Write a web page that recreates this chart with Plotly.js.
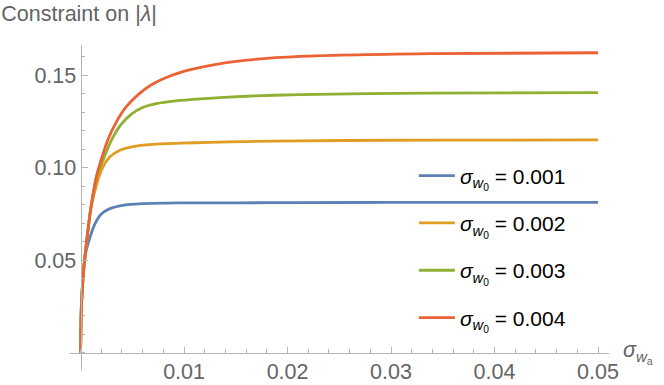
<!DOCTYPE html>
<html>
<head>
<meta charset="utf-8">
<script src="https://cdn.plot.ly/plotly-3.0.1.min.js"></script>
<style>
  html, body { margin: 0; padding: 0; background: #fff; }
  #chart { width: 664px; height: 385px; }
</style>
</head>
<body>
<div id="chart"></div>
<script>
// curve samples (x = sigma_wa, y = constraint on |lambda|)
const xBlue = [0, 0.00008, 0.00027, 0.00048, 0.00075, 0.00101, 0.00134, 0.00198, 0.00279, 0.00407, 0.006, 0.0096, 0.0155, 0.0212, 0.03, 0.04, 0.05];
const yBlue = [0, 0.0248, 0.0428, 0.0535, 0.0595, 0.0640, 0.0690, 0.0748, 0.0777, 0.0796, 0.0805, 0.0809, 0.081, 0.0811, 0.0812, 0.0812, 0.0812];

const xOrange = [0, 0.00008, 0.00027, 0.0006, 0.00101, 0.00166, 0.00214, 0.00279, 0.00375, 0.00504, 0.00697, 0.0096, 0.0125, 0.016, 0.0212, 0.03, 0.04, 0.05];
const yOrange = [0, 0.0248, 0.0428, 0.0605, 0.0782, 0.0930, 0.1002, 0.1056, 0.1093, 0.1114, 0.1126, 0.1132, 0.1137, 0.1141, 0.1145, 0.1148, 0.1149, 0.115];

const xGreen = [0, 0.00008, 0.00027, 0.0006, 0.00101, 0.0016, 0.0023, 0.00295, 0.0039, 0.00488, 0.006, 0.0073, 0.0092, 0.0116, 0.016, 0.0212, 0.0338, 0.05];
const yGreen = [0, 0.0248, 0.0428, 0.0608, 0.0788, 0.0962, 0.1058, 0.1145, 0.1232, 0.1288, 0.1325, 0.1346, 0.1361, 0.1372, 0.1386, 0.1395, 0.1403, 0.1405];

const xRed = [0, 0.00008, 0.00027, 0.0006, 0.00101, 0.0016, 0.00262, 0.00337, 0.0044, 0.00568, 0.00697, 0.00858, 0.01052, 0.01283, 0.01606, 0.0212, 0.0338, 0.05];
const yRed = [0, 0.0248, 0.0428, 0.0608, 0.0788, 0.0968, 0.1148, 0.1238, 0.1328, 0.14, 0.1452, 0.1494, 0.1528, 0.1556, 0.1581, 0.1601, 0.1616, 0.1621];

const seriesNames = ["0.001", "0.002", "0.003", "0.004"];
const seriesColors = ["#5E81B5", "#E19C24", "#8FB032", "#EB6235"];

const xTicks = [0.01, 0.02, 0.03, 0.04, 0.05];
const yTicks = [0.05, 0.10, 0.15];

const xRange = [-0.00102, 0.05106];
const yRange = [-0.0094, 0.1663];

function legendLabel(value) {
  return `<i>σ</i><sub><i>w</i><sub>0</sub></sub> = ${value}`;
}

function buildTraces() {
  const xs = [xBlue, xOrange, xGreen, xRed];
  const ys = [yBlue, yOrange, yGreen, yRed];
  return xs.map((x, i) => ({
    type: "scatter",
    mode: "lines",
    x: x,
    y: ys[i],
    name: legendLabel(seriesNames[i]),
    legendgroup: "g" + i,
    line: { color: seriesColors[i], width: 2.8, shape: "spline", smoothing: 0.6 }
  }));
}

function renderChart() {
  const axisColor = "#b5b5b5";
  const fontFamily = "Liberation Sans, Arial, sans-serif";
  const tickFont = { family: fontFamily, size: 21.5, color: "#646464" };

  const layout = {
    width: 664,
    height: 385,
    paper_bgcolor: "#fff",
    plot_bgcolor: "#fff",
    margin: { l: 70, r: 55, t: 45, b: 15 },
    showlegend: true,
    font: { family: fontFamily, color: "#000" },
    title: {
      text: "Constraint on |<i>λ</i>|",
      font: { size: 21.5, color: "#646464" },
      xref: "container", x: 0.002, xanchor: "left",
      yref: "container", y: 0.965, yanchor: "middle"
    },
    xaxis: {
      range: xRange,
      anchor: "free",
      position: -yRange[0] / (yRange[1] - yRange[0]),
      showgrid: false,
      zeroline: false,
      showline: true,
      linecolor: axisColor,
      linewidth: 1,
      tickmode: "array",
      tickvals: xTicks,
      tickformat: ".2f",
      ticks: "inside",
      ticklen: 6,
      tickcolor: axisColor,
      tickfont: tickFont,
      minor: { dtick: 0.002, tick0: 0, ticks: "inside", ticklen: 3.5, tickcolor: axisColor, showgrid: false }
    },
    yaxis: {
      range: yRange,
      anchor: "free",
      position: -xRange[0] / (xRange[1] - xRange[0]),
      showgrid: false,
      zeroline: false,
      showline: true,
      linecolor: axisColor,
      linewidth: 1,
      tickmode: "array",
      tickvals: yTicks,
      tickformat: ".2f",
      ticks: "inside",
      ticklen: 6,
      tickcolor: axisColor,
      tickfont: tickFont,
      minor: { dtick: 0.01, tick0: 0, ticks: "inside", ticklen: 3.5, tickcolor: axisColor, showgrid: false }
    },
    legend: {
      x: 0.638, xanchor: "left",
      y: 0.66, yanchor: "top",
      bgcolor: "rgba(0,0,0,0)",
      font: { size: 21, color: "#000" },
      tracegroupgap: 17,
      itemwidth: 36
    },
    annotations: [
      {
        text: "<i>σ</i><sub><i>w</i><sub>a</sub></sub>",
        xref: "paper", x: 1, xanchor: "left", xshift: 12,
        yref: "y", y: 0, yanchor: "middle",
        showarrow: false,
        font: { size: 21.5, color: "#646464" }
      }
    ]
  };

  Plotly.newPlot("chart", buildTraces(), layout, { displayModeBar: false, staticPlot: true });
}

document.addEventListener("DOMContentLoaded", renderChart);
</script>
</body>
</html>
